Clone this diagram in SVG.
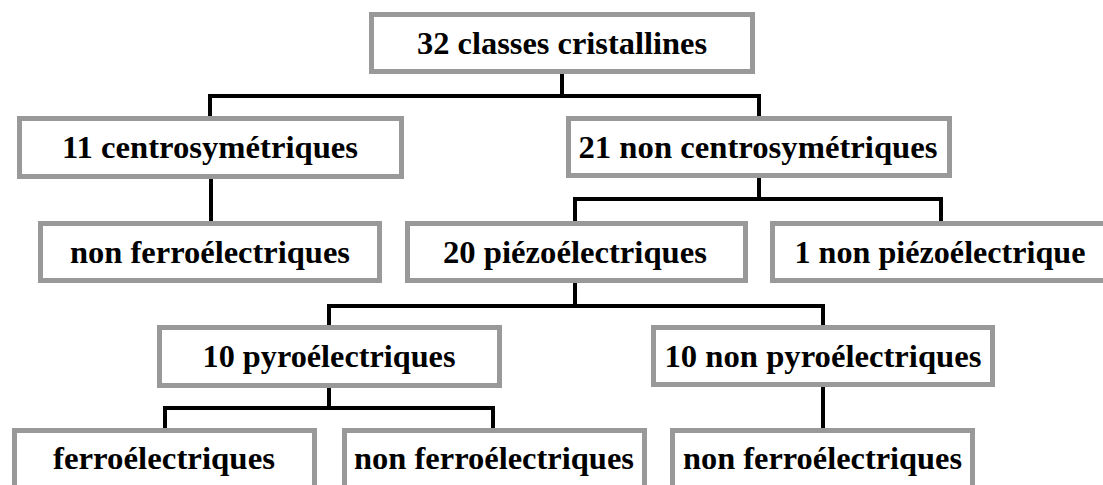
<svg xmlns="http://www.w3.org/2000/svg" width="1103" height="485" viewBox="0 0 1103 485">
<style>
.box{fill:#fff;stroke:#999;stroke-width:5}
.con{fill:none;stroke:#000;stroke-width:4;stroke-linecap:square}
</style>
<rect width="1103" height="485" fill="#fff"/>
<g id="connectors">
<path class="con" d="M562,74V96M210,96H759M210,96V117M759,96V117"/>
<path class="con" d="M211,179V221"/>
<path class="con" d="M759,178V199M575,199H941M575,199V220M941,199V220"/>
<path class="con" d="M575,283V306M329,306H823M329,306V325M823,306V325"/>
<path class="con" d="M329,388V408M165,408H493M165,408V428M493,408V428"/>
<path class="con" d="M823,387V428"/>
</g>
<g font-family="'Liberation Serif', 'DejaVu Serif', serif" font-weight="bold" font-size="32" text-anchor="middle" fill="#000">
<g id="n32"><rect class="box" x="371.5" y="14.5" width="381" height="57"/><text x="562" y="54" textLength="290" lengthAdjust="spacingAndGlyphs">32 classes cristallines</text></g>
<g id="n11"><rect class="box" x="19.5" y="118.5" width="382" height="58"/><text x="210" y="158" textLength="296" lengthAdjust="spacingAndGlyphs">11 centrosymétriques</text></g>
<g id="n21"><rect class="box" x="568.5" y="118.5" width="381" height="57"/><text x="758" y="158" textLength="359" lengthAdjust="spacingAndGlyphs">21 non centrosymétriques</text></g>
<g id="nf1"><rect class="box" x="40.5" y="223.5" width="339" height="57"/><text x="210" y="263" textLength="280" lengthAdjust="spacingAndGlyphs">non ferroélectriques</text></g>
<g id="n20"><rect class="box" x="407.5" y="223.5" width="338" height="57"/><text x="575" y="263" textLength="264" lengthAdjust="spacingAndGlyphs">20 piézoélectriques</text></g>
<g id="n1"><rect class="box" x="772.5" y="223.5" width="340" height="57"/><text x="940" y="263" textLength="291" lengthAdjust="spacingAndGlyphs">1 non piézoélectrique</text></g>
<g id="n10p"><rect class="box" x="159.5" y="327.5" width="340" height="58"/><text x="329" y="367" textLength="253" lengthAdjust="spacingAndGlyphs">10 pyroélectriques</text></g>
<g id="n10np"><rect class="box" x="653.5" y="327.5" width="339" height="57"/><text x="823" y="367" textLength="317" lengthAdjust="spacingAndGlyphs">10 non pyroélectriques</text></g>
<g id="nf"><rect class="box" x="14.5" y="430.5" width="300" height="70"/><text x="164" y="469" textLength="222" lengthAdjust="spacingAndGlyphs">ferroélectriques</text></g>
<g id="nf2"><rect class="box" x="344.5" y="430.5" width="300" height="70"/><text x="494" y="469" textLength="280" lengthAdjust="spacingAndGlyphs">non ferroélectriques</text></g>
<g id="nf3"><rect class="box" x="672.5" y="430.5" width="300" height="70"/><text x="822.5" y="469" textLength="279" lengthAdjust="spacingAndGlyphs">non ferroélectriques</text></g>
</g>
</svg>
